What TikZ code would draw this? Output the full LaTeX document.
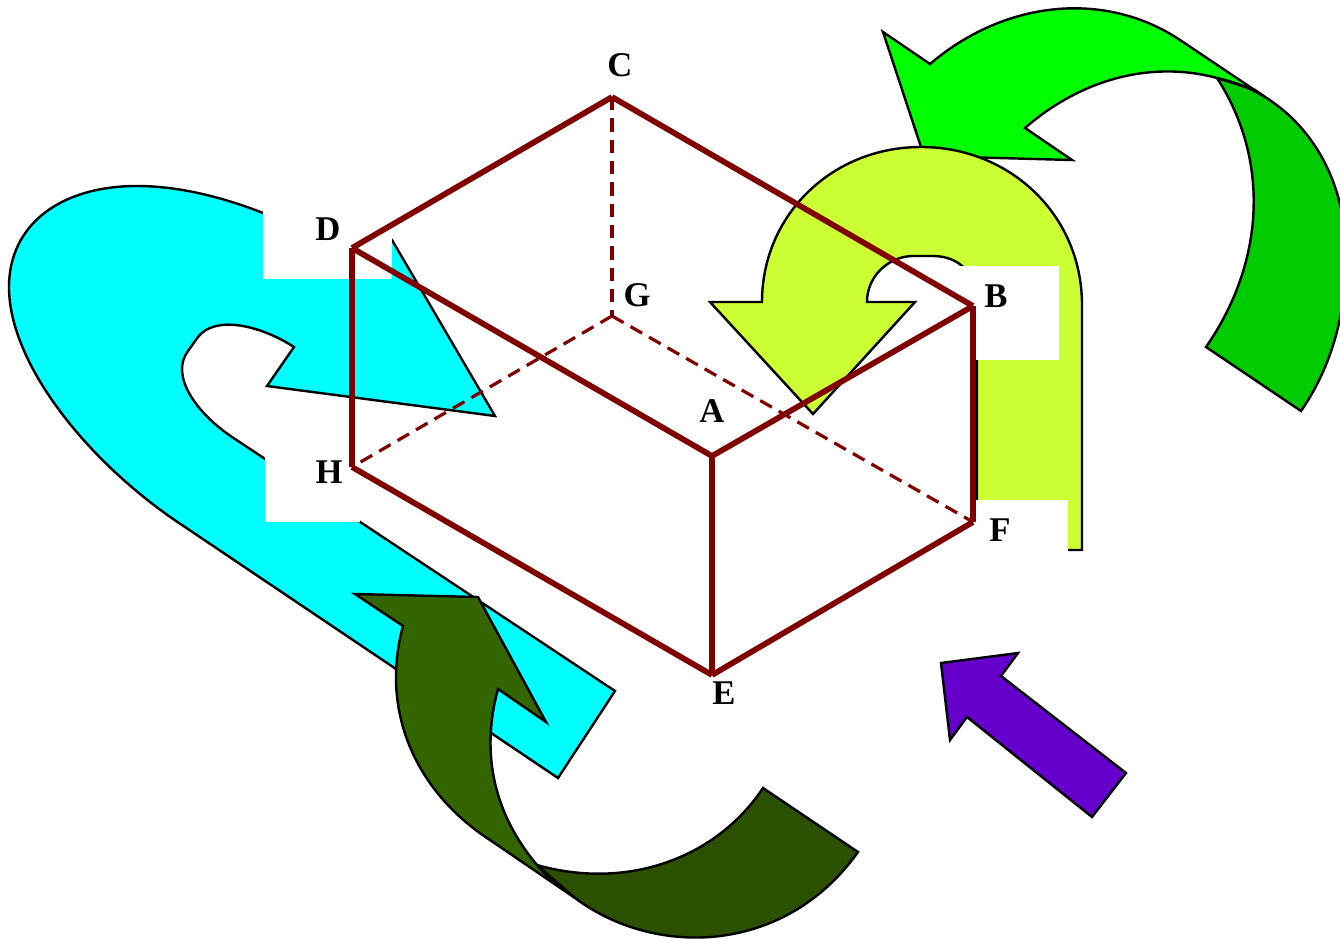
\documentclass[tikz,border=0pt]{standalone}
\usepackage{fontspec}
\setmainfont{Liberation Serif}
\definecolor{boxred}{HTML}{800000}
\definecolor{limefill}{HTML}{CCFF33}
\definecolor{brightgreen}{HTML}{00FF00}
\definecolor{brightshade}{HTML}{00CC00}
\definecolor{olivefill}{HTML}{336600}
\definecolor{oliveshade}{HTML}{2A5000}
\definecolor{purplefill}{HTML}{6600CC}
\definecolor{cyanfill}{HTML}{00FFFF}
\tikzset{
  arrowshape/.style={draw=black,line width=1.8pt,line join=miter},
  boxedge/.style={draw=boxred,line width=4.3pt},
  hiddenedge/.style={draw=boxred,line width=2.4pt,dash pattern=on 10pt off 6pt},
  cornerlabel/.style={font=\bfseries\fontsize{26}{30}\selectfont,inner sep=0pt}
}
\begin{document}
\begin{tikzpicture}[x=0.75pt,y=-0.75pt]
  \useasboundingbox (0,0) rectangle (1340,939);
  \clip (0,0) rectangle (1340,939);
  % corners of the box
  \coordinate (A) at (712,456);
  \coordinate (B) at (973,306);
  \coordinate (C) at (612,97);
  \coordinate (D) at (352,248);
  \coordinate (E) at (712,675);
  \coordinate (F) at (973,522);
  \coordinate (G) at (612,316);
  \coordinate (H) at (352,467);
  % top right arrow
  \filldraw[arrowshape,fill=brightshade] (1206,347) .. controls (1265,262) and (1270,160) .. (1217,78)
    -- (1255,90) -- (1265,97) .. controls (1310,125) and (1340,175) .. (1345,235)
    .. controls (1350,300) and (1335,362) .. (1301,411) -- cycle;
  \filldraw[arrowshape,fill=brightgreen] (883,32) -- (930,64) .. controls (1005,0) and (1105,-10) .. (1180,40)
    -- (1265,97) .. controls (1250,88) and (1235,82) .. (1217,78)
    .. controls (1150,60) and (1080,80) .. (1025,128) -- (1072,160) -- (924,156) -- cycle;
  % left arrow
  \filldraw[arrowshape,fill=cyanfill] (558,778) -- (185,527) .. controls (90,465) and (9,365) .. (9,287)
    .. controls (9,225) and (60,186) .. (137,186) .. controls (180,186) and (225,198) .. (263,213)
    -- (340,250) -- (392,240) -- (495,416) -- (267,386) -- (294,347)
    .. controls (260,325) and (215,315) .. (198,337) -- (188,351)
    .. controls (170,375) and (195,412) .. (232,437) -- (615,691) -- cycle;
  % bottom arrow
  \filldraw[arrowshape,fill=oliveshade] (763,788) .. controls (715,860) and (625,890) .. (537,865)
    -- (575,898) .. controls (655,958) and (785,955) .. (858,852) -- cycle;
  \filldraw[arrowshape,fill=olivefill] (355,594) -- (478,597) -- (546,722) -- (498,689)
    .. controls (480,755) and (495,815) .. (537,865) .. controls (548,878) and (560,888) .. (575,898)
    -- (487,838) .. controls (415,790) and (380,710) .. (403,626) -- cycle;
  % middle arrow
  \filldraw[arrowshape,fill=limefill] (1082,550) -- (1082,305) .. controls (1082,215) and (1010,147) .. (921,147)
    .. controls (832,147) and (762,215) .. (762,302) -- (710,302) -- (813,414) -- (915,302) -- (867,302)
    .. controls (867,275) and (890,256) .. (913,256) -- (933,256) .. controls (960,256) and (977,275) .. (977,302)
    -- (977,550) -- cycle;
  \filldraw[arrowshape,fill=purplefill] (1126,773) -- (1092,817) -- (967,717) -- (950,740) -- (941,663)
    -- (1018,653) -- (1001,676) -- cycle;
  % white patches behind the labels
  \fill[white] (263,180) rectangle (392,279);
  \fill[white] (265,457) rectangle (360,522);
  \fill[white] (957,266) rectangle (1059,360);
  \fill[white] (975,500) rectangle (1068,552);
  % edges
  \draw[hiddenedge] (C) -- (G);
  \draw[hiddenedge] (G) -- (H);
  \draw[hiddenedge] (G) -- (F);
  \draw[boxedge] (C) -- (D);
  \draw[boxedge] (C) -- (B);
  \draw[boxedge] (D) -- (A);
  \draw[boxedge] (A) -- (B);
  \draw[boxedge] (D) -- (H);
  \draw[boxedge] (H) -- (E);
  \draw[boxedge] (E) -- (F);
  \draw[boxedge] (A) -- (E);
  \draw[boxedge] (B) -- (F);
  % labels
  \node[cornerlabel] (labelA) at (712,411) {A};
  \node[cornerlabel] (labelB) at (996,296) {B};
  \node[cornerlabel] (labelC) at (620,65) {C};
  \node[cornerlabel] (labelD) at (328,229) {D};
  \node[cornerlabel] (labelE) at (724,693) {E};
  \node[cornerlabel] (labelF) at (1000,530) {F};
  \node[cornerlabel] (labelG) at (637,295) {G};
  \node[cornerlabel] (labelH) at (329,472) {H};
\end{tikzpicture}
\end{document}
